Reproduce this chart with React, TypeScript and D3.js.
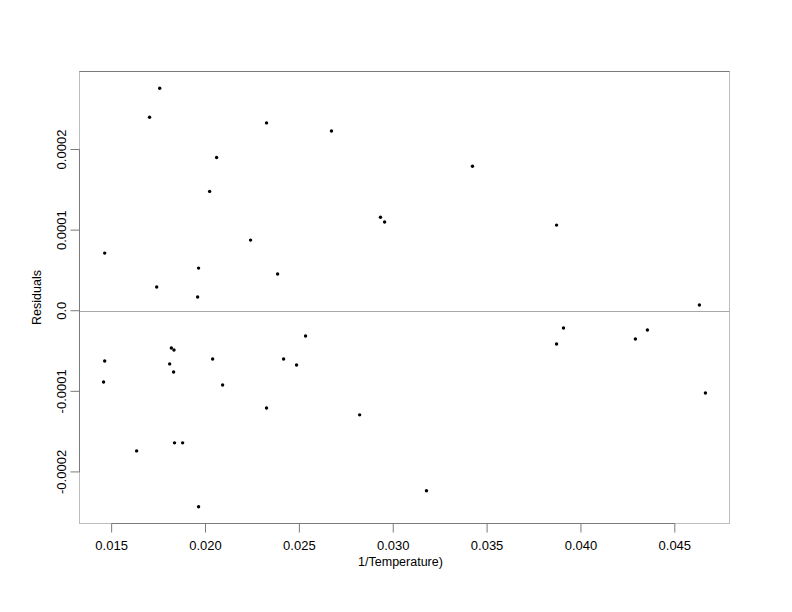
import * as d3 from "d3";

// 1/Temperature (x) against residuals (y)
const invTemp = [
  0.01756, 0.01702, 0.02325, 0.02671, 0.02059, 0.02022, 0.02932, 0.02954,
  0.0224, 0.01463, 0.01963, 0.02384, 0.0174, 0.01958, 0.02533, 0.01818,
  0.01832, 0.01463, 0.02038, 0.02416, 0.01809, 0.02485, 0.0183, 0.01457,
  0.02091, 0.02325, 0.02821, 0.01633, 0.01835, 0.01878, 0.01963, 0.03422,
  0.0387, 0.04631, 0.03907, 0.0387, 0.0429, 0.04354, 0.04663, 0.03177,
];
const residuals = [
  0.000276, 0.00024, 0.000233, 0.000223, 0.00019, 0.000148, 0.000116, 0.00011,
  0.0000876, 0.0000715, 0.0000529, 0.0000455, 0.0000294, 0.000017, -0.0000313, -0.0000462,
  -0.0000487, -0.0000623, -0.0000599, -0.0000599, -0.000066, -0.0000673, -0.000076, -0.0000884,
  -0.0000921, -0.0001206, -0.0001292, -0.0001739, -0.0001639, -0.0001639, -0.0002432, 0.0001793,
  0.0001062, 0.0000071, -0.0000214, -0.0000413, -0.0000351, -0.0000239, -0.000102, -0.0002234,
];

const xTicks = [0.015, 0.02, 0.025, 0.03, 0.035, 0.04, 0.045];
const xTickLabels = ["0.015", "0.020", "0.025", "0.030", "0.035", "0.040", "0.045"];
const yTicks = [-0.0002, -0.0001, 0, 0.0001, 0.0002];
const yTickLabels = ["-0.0002", "-0.0001", "0.0", "0.0001", "0.0002"];

const W = 792;
const H = 612;
const margin = { top: 71.5, right: 62.5, bottom: 88.5, left: 79.5 };
const FONT = "'Liberation Sans', Arial, Helvetica, sans-serif";

// R-style 4% padding around the data range
function padded(values: number[]): [number, number] {
  const [lo, hi] = d3.extent(values) as [number, number];
  const pad = (hi - lo) * 0.04;
  return [lo - pad, hi + pad];
}

export default function App() {
  const x = d3.scaleLinear().domain(padded(invTemp)).range([margin.left, W - margin.right]);
  const y = d3.scaleLinear().domain(padded(residuals)).range([H - margin.bottom, margin.top]);

  const left = margin.left;
  const right = W - margin.right;
  const top = margin.top;
  const bottom = H - margin.bottom;
  const tickLen = 9;
  const axisColor = "#7a7a7a";
  const frameColor = "#bdbdbd";

  return (
    <svg
      width={W}
      height={H}
      style={{ position: "absolute", left: 0, top: 0, background: "#fff" }}
      fontFamily={FONT}
    >
      <rect x={0} y={0} width={W} height={H} fill="#fff" />

      {/* plot frame */}
      <rect x={left} y={top} width={right - left} height={bottom - top} fill="none" stroke={frameColor} strokeWidth={1} />
      <line x1={left} x2={right} y1={top} y2={top} stroke={axisColor} strokeWidth={1} />

      {/* zero reference line */}
      <line x1={left} x2={right} y1={Math.round(y(0)) + 0.5} y2={Math.round(y(0)) + 0.5} stroke="#a8a8a8" strokeWidth={1} />

      {/* x axis */}
      <line x1={x(xTicks[0])} x2={x(xTicks[xTicks.length - 1])} y1={bottom} y2={bottom} stroke={axisColor} />
      {xTicks.map((t, i) => (
        <g key={`xt${i}`}>
          <line x1={x(t)} x2={x(t)} y1={bottom} y2={bottom + tickLen} stroke={axisColor} />
          <text x={x(t)} y={550} textAnchor="middle" fontSize={13} fill="#000">
            {xTickLabels[i]}
          </text>
        </g>
      ))}
      <text x={(left + right) / 2 - 4} y={566} textAnchor="middle" fontSize={12.5} fill="#000">
        1/Temperature)
      </text>

      {/* y axis */}
      <line x1={left} x2={left} y1={y(yTicks[0])} y2={y(yTicks[yTicks.length - 1])} stroke={axisColor} />
      {yTicks.map((t, i) => (
        <g key={`yt${i}`}>
          <line x1={left - tickLen} x2={left} y1={y(t)} y2={y(t)} stroke={axisColor} />
          <text
            transform={`translate(65.5,${y(t)}) rotate(-90)`}
            textAnchor="middle"
            fontSize={13}
            fill="#000"
          >
            {yTickLabels[i]}
          </text>
        </g>
      ))}
      <text
        transform={`translate(41,${(top + bottom) / 2}) rotate(-90)`}
        textAnchor="middle"
        fontSize={12.5}
        fill="#000"
      >
        Residuals
      </text>

      {/* points */}
      {invTemp.map((v, i) => (
        <circle key={i} cx={x(v)} cy={y(residuals[i])} r={1.7} fill="#000" />
      ))}
    </svg>
  );
}
